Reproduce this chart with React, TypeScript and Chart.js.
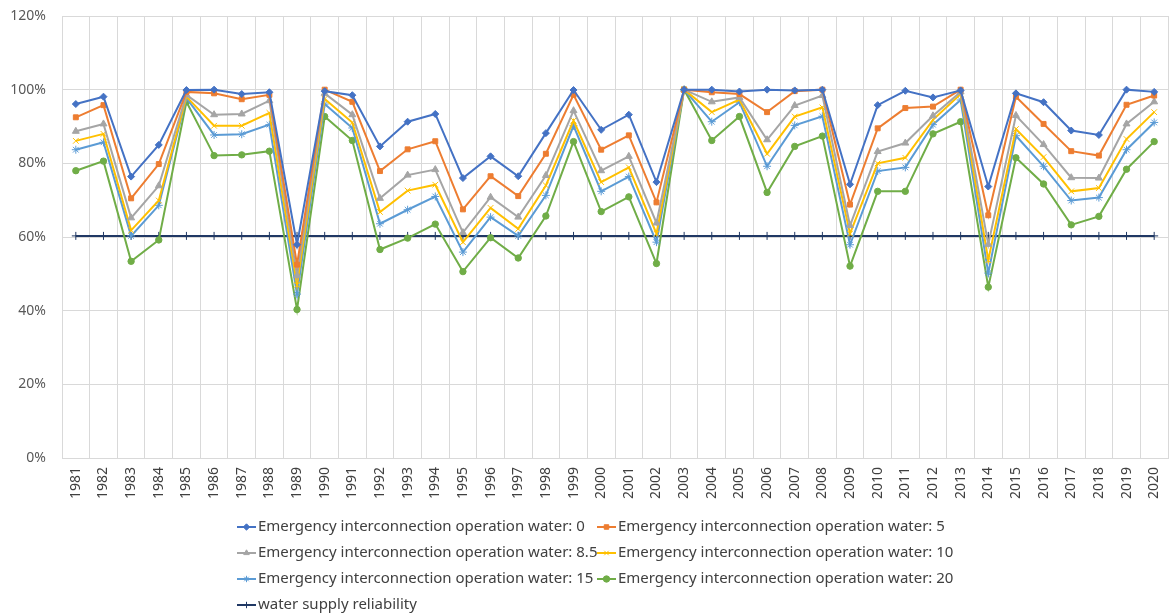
import React, { useEffect, useRef } from "react";
import { Chart, registerables } from "chart.js";
import { drawPoint } from "chart.js/helpers";

Chart.register(...registerables);

const years = [
  "1981","1982","1983","1984","1985","1986","1987","1988","1989","1990",
  "1991","1992","1993","1994","1995","1996","1997","1998","1999","2000",
  "2001","2002","2003","2004","2005","2006","2007","2008","2009","2010",
  "2011","2012","2013","2014","2015","2016","2017","2018","2019","2020",
];

const water0 = [96.1, 98.1, 76.4, 85.0, 99.9, 100, 98.8, 99.3, 57.9, 99.6, 98.5, 84.6, 91.3, 93.4, 76.0, 81.9, 76.5, 88.2, 99.9, 89.1, 93.2, 74.9, 100, 100, 99.5, 100, 99.8, 100, 74.3, 95.8, 99.7, 97.9, 99.8, 73.7, 99.0, 96.6, 88.9, 87.7, 100, 99.4];
const water5 = [92.5, 95.8, 70.5, 79.8, 99.4, 99.0, 97.4, 98.6, 52.5, 100, 96.7, 77.9, 83.8, 86.0, 67.5, 76.5, 71.1, 82.6, 98.6, 83.7, 87.6, 69.4, 100, 99.3, 98.8, 93.9, 99.6, 100, 68.8, 89.5, 95.0, 95.4, 100, 65.9, 98.1, 90.7, 83.3, 82.1, 95.9, 98.4];
const water85 = [88.7, 90.7, 65.2, 73.9, 98.6, 93.2, 93.4, 97.0, 49.5, 99.0, 93.2, 70.5, 76.8, 78.3, 61.2, 70.8, 65.4, 76.7, 94.3, 78.0, 81.9, 63.8, 100, 96.7, 97.9, 86.4, 95.7, 98.4, 63.1, 83.2, 85.5, 92.9, 99.4, 58.0, 93.0, 85.1, 76.1, 76.0, 90.7, 96.7];
const water10 = [86.1, 88.0, 61.8, 69.9, 98.1, 90.2, 90.2, 93.7, 47.0, 97.5, 91.1, 66.8, 72.6, 74.2, 58.6, 67.9, 62.2, 74.0, 91.6, 74.9, 78.9, 60.9, 100, 93.9, 97.3, 82.6, 92.7, 95.2, 60.9, 80.0, 81.5, 91.8, 98.8, 53.7, 89.3, 81.7, 72.4, 73.3, 86.6, 93.9];
const water15 = [83.7, 85.7, 60.3, 68.6, 97.7, 87.7, 87.9, 90.5, 44.5, 96.1, 89.6, 63.6, 67.4, 71.0, 55.9, 65.4, 60.3, 71.3, 90.2, 72.4, 76.4, 58.6, 100, 91.3, 96.6, 79.2, 90.3, 92.8, 57.9, 77.9, 78.9, 90.5, 97.2, 50.2, 87.5, 79.2, 69.9, 70.7, 83.7, 91.1];
const water20 = [78.0, 80.6, 53.4, 59.2, 96.7, 82.1, 82.3, 83.3, 40.3, 92.7, 86.2, 56.6, 59.7, 63.5, 50.6, 59.8, 54.3, 65.7, 85.9, 66.9, 70.9, 52.8, 100, 86.2, 92.7, 72.1, 84.6, 87.4, 52.1, 72.4, 72.4, 88.0, 91.3, 46.4, 81.5, 74.4, 63.3, 65.6, 78.4, 85.9];
const reliability = years.map(() => 60.3);

const seriesLabels = [
  "Emergency interconnection operation water: 0",
  "Emergency interconnection operation water: 5",
  "Emergency interconnection operation water: 8.5",
  "Emergency interconnection operation water: 10",
  "Emergency interconnection operation water: 15",
  "Emergency interconnection operation water: 20",
  "water supply reliability",
];

const yTicks = [0, 20, 40, 60, 80, 100, 120];

const FONT = "'Noto Sans', 'Liberation Sans', Arial, sans-serif";

const legendPlugin = {
  id: "gridLegend",
  afterDraw(chart: any) {
    const ctx = chart.ctx;
    const cols = [237, 597];
    const rows = [527, 553, 579, 605];
    ctx.save();
    ctx.font = `15px ${FONT}`;
    ctx.textBaseline = "middle";
    ctx.textAlign = "left";
    chart.data.datasets.forEach((ds: any, i: number) => {
      const x = cols[i % 2];
      const y = rows[Math.floor(i / 2)];
      ctx.strokeStyle = ds.borderColor;
      ctx.fillStyle = ds.borderColor;
      ctx.lineWidth = 2;
      ctx.beginPath();
      ctx.moveTo(x, y);
      ctx.lineTo(x + 19, y);
      ctx.stroke();
      ctx.lineWidth = 1;
      drawPoint(ctx, { pointStyle: ds.pointStyle, radius: 3.2, rotation: 0, borderWidth: 1 }, x + 9.5, y);
      ctx.fillStyle = "#404040";
      ctx.fillText(ds.label, x + 21, y);
    });
    ctx.restore();
  },
};

export default function App() {
  const ref = useRef<HTMLCanvasElement | null>(null);
  useEffect(() => {
    document.body.style.margin = "0";
    const mk = (label: string, data: number[], color: string, pointStyle: string, radius: number) => ({
      label,
      data,
      borderColor: color,
      backgroundColor: color,
      pointBackgroundColor: color,
      pointBorderColor: color,
      pointStyle,
      pointRadius: radius,
      pointBorderWidth: 1,
      borderWidth: 2,
      tension: 0,
    });
    const chart = new Chart(ref.current as HTMLCanvasElement, {
      type: "line",
      data: {
        labels: years,
        datasets: [
          mk(seriesLabels[0], water0, "#4472C4", "rectRot", 3.5),
          mk(seriesLabels[1], water5, "#ED7D31", "rect", 3.5),
          mk(seriesLabels[2], water85, "#A5A5A5", "triangle", 4),
          mk(seriesLabels[3], water10, "#FFC000", "crossRot", 4),
          mk(seriesLabels[4], water15, "#5B9BD5", "star", 4),
          mk(seriesLabels[5], water20, "#70AD47", "circle", 3.2),
          mk(seriesLabels[6], reliability, "#203864", "cross", 4),
        ],
      },
      options: {
        responsive: false,
        animation: false,
        layout: { padding: { top: 16, right: 1, left: 0, bottom: 0 } },
        plugins: {
          legend: { display: false },
          tooltip: { enabled: false },
        },
        scales: {
          x: {
            offset: true,
            grid: { offset: true, color: "#d9d9d9", drawTicks: false },
            border: { color: "#d9d9d9" },
            ticks: {
              minRotation: 90,
              maxRotation: 90,
              autoSkip: false,
              padding: 9,
              color: "#404040",
              font: { family: FONT, size: 14 },
            },
            afterFit: (s: any) => {
              s.height = 157;
              s.paddingLeft = 0;
              s.paddingRight = 0;
            },
          },
          y: {
            min: 0,
            max: 120,
            afterBuildTicks: (s: any) => {
              s.ticks = yTicks.map((v) => ({ value: v }));
            },
            grid: { color: "#d9d9d9", drawTicks: false },
            border: { display: false },
            ticks: {
              padding: 16,
              color: "#595959",
              font: { family: FONT, size: 14 },
              callback: (v: any) => `${v}%`,
            },
            afterFit: (s: any) => {
              s.width = 62;
              s.paddingTop = 0;
              s.paddingBottom = 0;
            },
          },
        },
      },
      plugins: [legendPlugin],
    } as any);
    return () => chart.destroy();
  }, []);
  return (
    <div style={{ width: 1173, height: 615 }}>
      <canvas ref={ref} width={1173} height={615} />
    </div>
  );
}
